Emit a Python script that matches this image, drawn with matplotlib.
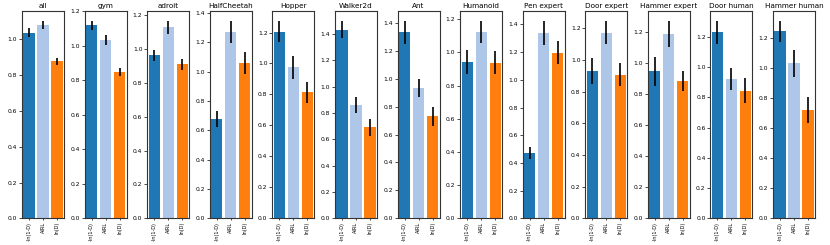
import numpy as np
import matplotlib
matplotlib.use('Agg')
import matplotlib.pyplot as plt

# Paneles y métodos
paneles = ['all', 'gym', 'adroit', 'HalfCheetah', 'Hopper', 'Walker2d', 'Ant',
           'Humanoid', 'Pen expert', 'Door expert', 'Hammer expert',
           'Door human', 'Hammer human']
metodos = ['-ln(1-D)', 'AIRL', 'ln(D)']
colores = ['#1f77b4', '#aec7e8', '#ff7f0e']

# Valores medios por panel (-ln(1-D), AIRL, ln(D))
medias = [
    [1.039, 1.080, 0.877],
    [1.120, 1.033, 0.847],
    [0.963, 1.128, 0.909],
    [0.676, 1.268, 1.061],
    [1.206, 0.976, 0.813],
    [1.435, 0.861, 0.691],
    [1.332, 0.931, 0.730],
    [0.942, 1.124, 0.938],
    [0.474, 1.339, 1.197],
    [0.929, 1.172, 0.905],
    [0.944, 1.184, 0.882],
    [1.231, 0.921, 0.844],
    [1.246, 1.033, 0.721],
]

# Semiancho de las barras de error
errores = [
    [0.023, 0.024, 0.018],
    [0.025, 0.029, 0.023],
    [0.034, 0.038, 0.033],
    [0.057, 0.077, 0.075],
    [0.069, 0.075, 0.069],
    [0.066, 0.061, 0.065],
    [0.082, 0.064, 0.068],
    [0.070, 0.066, 0.068],
    [0.043, 0.087, 0.081],
    [0.080, 0.074, 0.073],
    [0.096, 0.085, 0.062],
    [0.075, 0.072, 0.083],
    [0.069, 0.089, 0.089],
]

fig, axes = plt.subplots(1, len(paneles), figsize=(8.3, 2.45), dpi=100)
fig.subplots_adjust(left=0.0265, right=0.982, bottom=0.109, top=0.955, wspace=0.49)

x = np.arange(len(metodos))
for ax, titulo, m, e in zip(axes, paneles, medias, errores):
    ax.bar(x, m, width=0.8, color=colores)
    for xi, mi, ei in zip(x, m, e):
        ax.plot([xi, xi], [mi - ei, mi + ei], color='black', lw=1.2, solid_capstyle='butt')
    ax.set_xlim(-0.5, 2.5)
    top = max(mi + ei for mi, ei in zip(m, e))
    ax.set_ylim(0, top * 1.05)
    ax.set_xticks(x)
    ax.set_xticklabels(metodos, rotation=90, fontsize=3.6)
    ax.tick_params(axis='y', labelsize=4.3, length=2, width=0.5, pad=1.5)
    ax.tick_params(axis='x', length=1.5, width=0.5, pad=1)
    ax.set_title(titulo, fontsize=5.2, pad=2)
    for s in ax.spines.values():
        s.set_color('#333333')
        s.set_linewidth(0.8)

plt.savefig('out.png', dpi=100)
